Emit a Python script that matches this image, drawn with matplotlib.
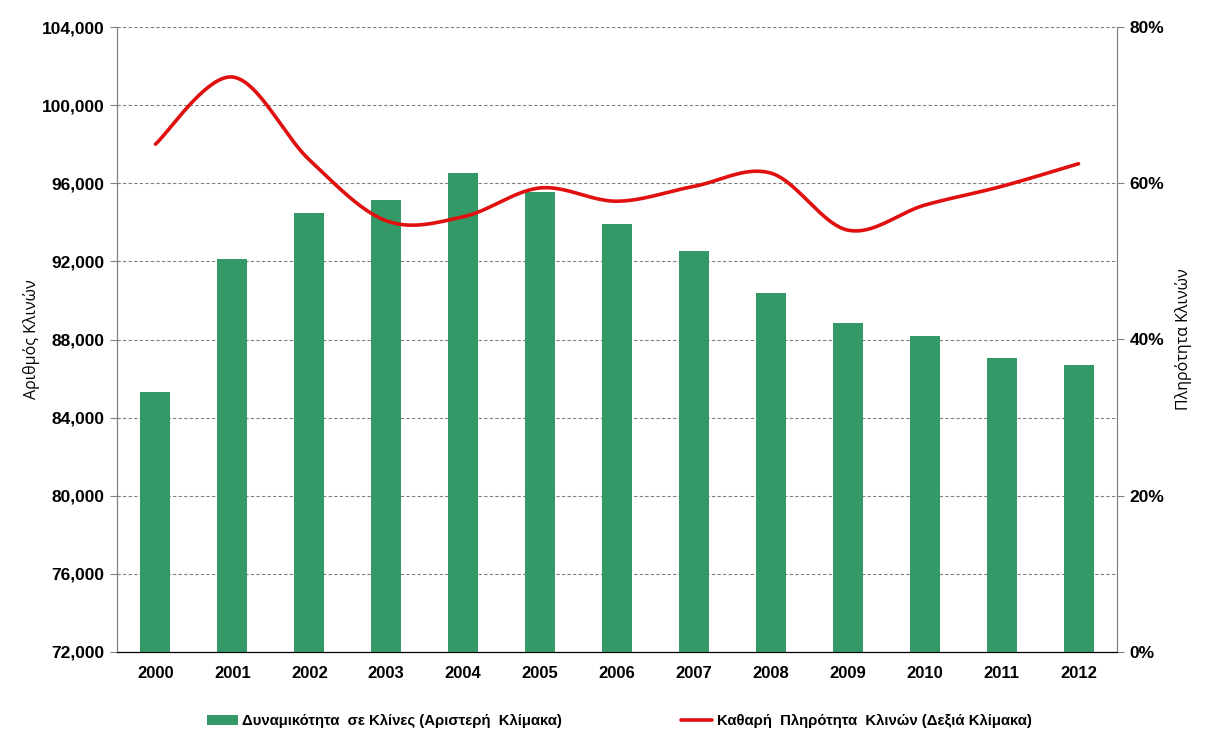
import numpy as np
import matplotlib
matplotlib.use("Agg")
import matplotlib.pyplot as plt
from matplotlib.ticker import FuncFormatter

years = ["2000", "2001", "2002", "2003", "2004", "2005", "2006",
         "2007", "2008", "2009", "2010", "2011", "2012"]
capacity = [85300, 92100, 94500, 95150, 96500, 95550, 93900,
            92550, 90400, 88850, 88200, 87050, 86700]
occupancy = [0.650, 0.736, 0.630, 0.552, 0.557, 0.594, 0.577,
             0.596, 0.613, 0.540, 0.572, 0.596, 0.625]

bar_label = "Δυναμικότητα  σε Κλίνες (Αριστερή  Κλίμακα)"
line_label = "Καθαρή  Πληρότητα  Κλινών (Δεξιά Κλίμακα)"
left_ylabel = "Αριθμός Κλινών"
right_ylabel = "Πληρότητα Κλινών"

FONT = ["Liberation Sans", "DejaVu Sans"]
LABFONT = ["Open Sans", "DejaVu Sans"]
BAR_C = "#339966"
LINE_C = "#E01010"


def smooth(xs, ys, n=40):
    xs = np.asarray(xs, float)
    ys = np.asarray(ys, float)
    P = np.column_stack([xs, ys])
    out = []
    for i in range(len(P) - 1):
        p0 = P[i - 1] if i > 0 else P[i]
        p1 = P[i]
        p2 = P[i + 1]
        p3 = P[i + 2] if i + 2 < len(P) else P[i + 1]
        c1 = p1 + (p2 - p0) / 6.0
        c2 = p2 - (p3 - p1) / 6.0
        t = np.linspace(0, 1, n)[:, None]
        seg = ((1 - t) ** 3) * p1 + 3 * ((1 - t) ** 2) * t * c1 + 3 * (1 - t) * t ** 2 * c2 + t ** 3 * p2
        out.append(seg if i == 0 else seg[1:])
    arr = np.vstack(out)
    return arr[:, 0], arr[:, 1]


fig = plt.figure(figsize=(12.07, 7.39), dpi=100)
ax = fig.add_axes([117 / 1207, 1 - 652 / 739, 1000 / 1207, 625 / 739])
ax2 = ax.twinx()

x = np.arange(len(years))
ax.bar(x, capacity, width=0.39, color=BAR_C, zorder=3, label=bar_label)
ax.set_xlim(-0.5, len(years) - 0.5)
ax.set_ylim(72000, 104000)
ax.set_yticks(np.arange(72000, 104001, 4000))
ax.yaxis.set_major_formatter(FuncFormatter(lambda v, p: f"{int(v):,}"))
ax.set_xticks(x)
ax.set_xticklabels(years)
ax.grid(axis="y", color="#808080", linestyle=(0, (3, 2)), linewidth=0.8, zorder=0)
ax.set_axisbelow(True)

sx, sy = smooth(x, occupancy)
ax2.plot(sx, sy, color=LINE_C, linewidth=2.6, solid_capstyle="round", label=line_label, zorder=4)
ax2.set_ylim(0, 0.8)
ax2.set_yticks([0, 0.2, 0.4, 0.6, 0.8])
ax2.yaxis.set_major_formatter(FuncFormatter(lambda v, p: f"{int(round(v * 100))}%"))

for a in (ax, ax2):
    a.spines["top"].set_visible(False)
    a.spines["left"].set_color("#808080")
    a.spines["right"].set_color("#808080")
    a.spines["bottom"].set_color("#000000")

ax.tick_params(axis="y", direction="out", length=5, color="#808080", pad=4)
ax.tick_params(axis="x", length=0, pad=10)
ax2.tick_params(axis="y", direction="out", length=5, color="#808080", pad=4)

for lab in ax.get_yticklabels() + ax2.get_yticklabels():
    lab.set_fontfamily(FONT)
    lab.set_fontweight("bold")
    lab.set_fontsize(12.5)
for lab in ax.get_xticklabels():
    lab.set_fontfamily(FONT)
    lab.set_fontweight("bold")
    lab.set_fontsize(12)

ax.set_ylabel(left_ylabel, fontfamily=LABFONT, fontsize=11.5, labelpad=1)
ax2.set_ylabel(right_ylabel, fontfamily=LABFONT, fontsize=11.5, labelpad=8)

h1, l1 = ax.get_legend_handles_labels()
h2, l2 = ax2.get_legend_handles_labels()
leg = fig.legend(h1 + h2, l1 + l2, loc="center", bbox_to_anchor=(619 / 1207, 1 - 721 / 739),
                 ncol=2, frameon=False, columnspacing=8.0, handlelength=2.1, handletextpad=0.3,
                 prop={"family": FONT, "size": 10.7, "weight": "bold"})

fig.savefig("out.png", dpi=100)
